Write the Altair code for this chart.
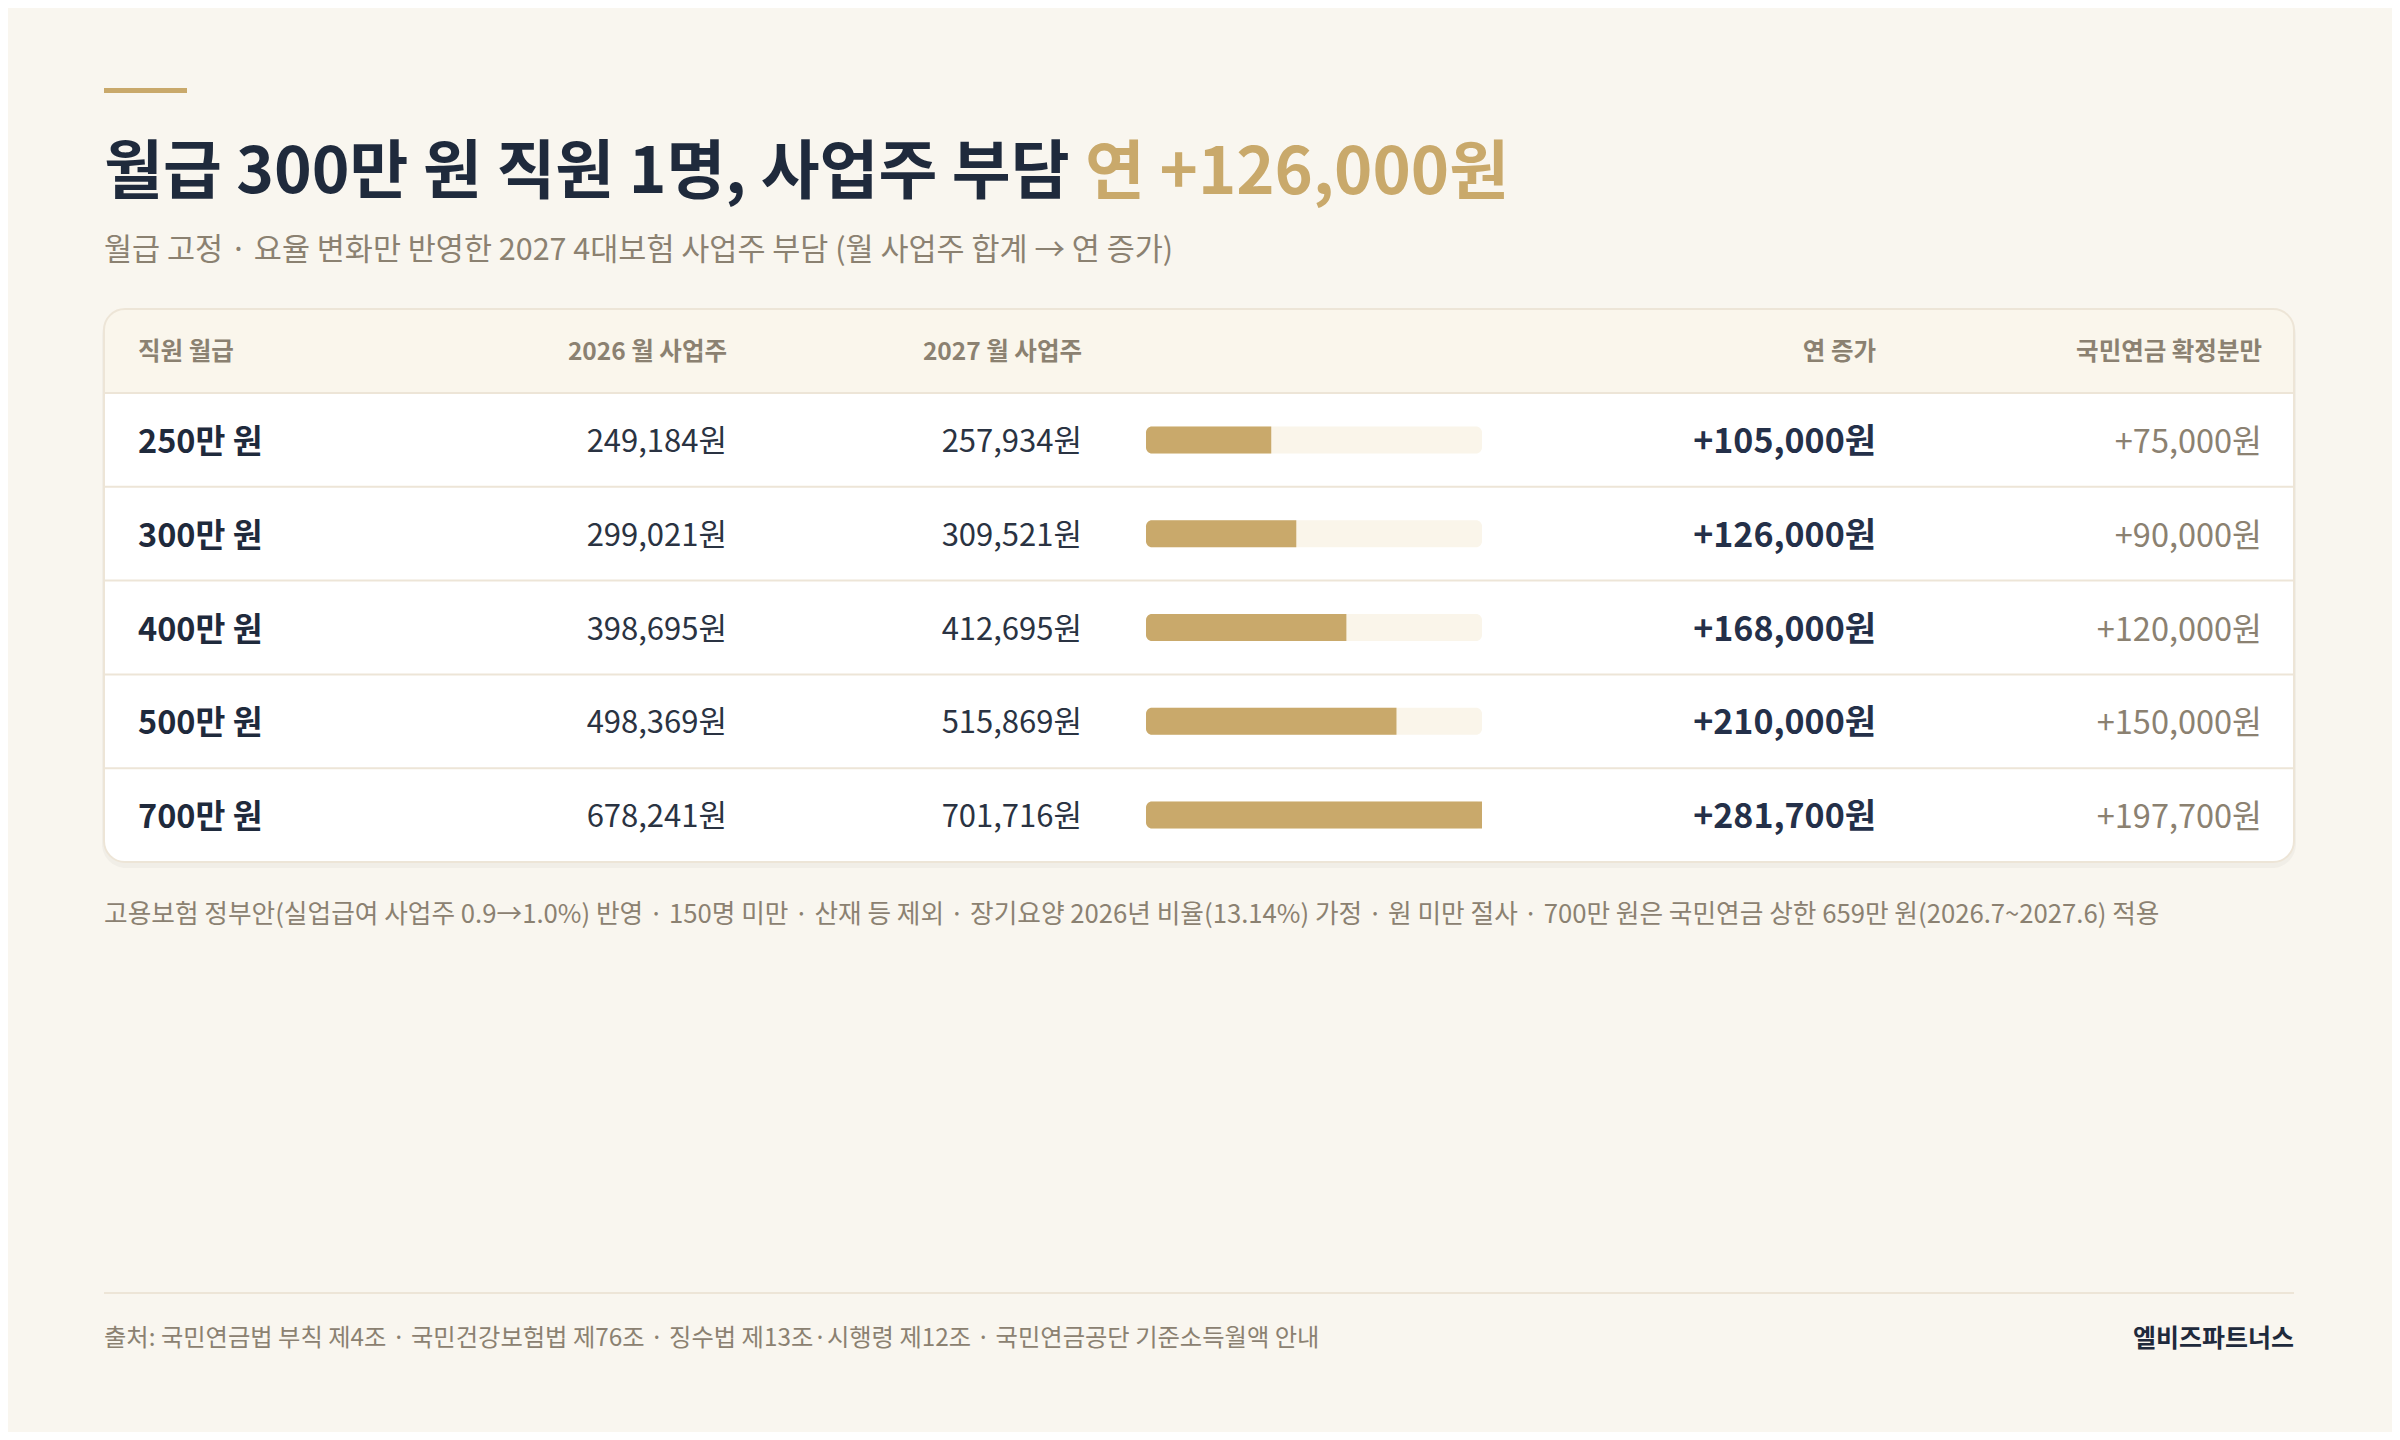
import altair as alt
import pandas as pd

# data
labels = ["250만 원", "300만 원", "400만 원", "500만 원", "700만 원"]
monthly_2026 = [249184, 299021, 398695, 498369, 678241]
monthly_2027 = [257934, 309521, 412695, 515869, 701716]
annual_inc = [105000, 126000, 168000, 210000, 281700]
pension_only = [75000, 90000, 120000, 150000, 197700]
headers = ["직원 월급", "2026 월 사업주", "2027 월 사업주", "연 증가", "국민연금 확정분만"]

title_main = "월급 300만 원 직원 1명, 사업주 부담"
title_hl = "연 +126,000원"
subtitle = "월급 고정 · 요율 변화만 반영한 2027 4대보험 사업주 부담 (월 사업주 합계 → 연 증가)"
footnote = ("고용보험 정부안(실업급여 사업주 0.9→1.0%) 반영 · 150명 미만 · 산재 등 제외 · "
            "장기요양 2026년 비율(13.14%) 가정 · 원 미만 절사 · 700만 원은 국민연금 상한 659만 원(2026.7~2027.6) 적용")
source = "출처: 국민연금법 부칙 제4조 · 국민건강보험법 제76조 · 징수법 제13조·시행령 제12조 · 국민연금공단 기준소득월액 안내"
brand = "엘비즈파트너스"

FONT = "Noto Sans CJK KR"
NAVY = "#1f2a3c"
GOLD = "#c9a96b"
GREY = "#8b8171"
LINE = "#ede5d7"
BG = "#f9f6ef"

df = pd.DataFrame({
    "label": labels,
    "m26": [f"{v:,}원" for v in monthly_2026],
    "m27": [f"{v:,}원" for v in monthly_2027],
    "annual": annual_inc,
    "annual_txt": [f"+{v:,}원" for v in annual_inc],
    "pension_txt": [f"+{v:,}원" for v in pension_only],
})
df["zero"] = 0
df["full"] = max(annual_inc)

one = pd.DataFrame({"k": [0]})

yscale = alt.Scale(domain=labels, range=[385, 854], paddingInner=0, paddingOuter=0)
xscale = alt.Scale(domain=[0, max(annual_inc)], range=[1138, 1474])
Y = alt.Y("label:N", scale=yscale, axis=None)


def box(x, x2, y, y2, **kw):
    return alt.Chart(one).mark_rect(**kw).encode(
        x=alt.value(x), x2=alt.value(x2), y=alt.value(y), y2=alt.value(y2))


def label_text(txt, x, y, **kw):
    return alt.Chart(pd.DataFrame({"t": [txt]})).mark_text(
        font=FONT, baseline="middle", **kw).encode(
        x=alt.value(x), y=alt.value(y), text="t:N")


accent = box(96, 179, 80, 85, fill=GOLD)
t1 = label_text(title_main, 96, 166, align="left", fontSize=64,
                fontWeight="bold", color=NAVY)
t2 = label_text(title_hl, 1077, 166, align="left", fontSize=65,
                fontWeight="bold", color=GOLD)
sub = label_text(subtitle, 96, 243, align="left", fontSize=30.5, color=GREY)

shadow = box(94, 2288, 303, 860, fill="#000000", opacity=0.03, cornerRadius=24)
card = box(96, 2286, 301, 854, fill="#ffffff", cornerRadius=21)
head_bg = box(96, 2286, 301, 385, fill="#faf6ec",
              cornerRadiusTopLeft=21, cornerRadiusTopRight=21)
card_edge = box(96, 2286, 301, 854, fill="#ffffff", fillOpacity=0, stroke=LINE,
                strokeWidth=2, cornerRadius=21)

dividers = alt.Chart(df).mark_rule(color=LINE, strokeWidth=2).encode(
    y=alt.Y("label:N", scale=yscale, axis=None, bandPosition=0),
    x=alt.value(97), x2=alt.value(2285))

head_x = [130, 719, 1074, 1868, 2254]
head_align = ["left", "right", "right", "right", "right"]
head_layers = [label_text(h, hx, 345, align=ha, fontSize=24.5,
                          fontWeight="bold", color=GREY)
               for h, hx, ha in zip(headers, head_x, head_align)]

track = alt.Chart(df).mark_bar(height=27, color="#faf5ea", cornerRadius=6).encode(
    y=Y, x=alt.X("zero:Q", scale=xscale, axis=None), x2="full:Q")
bars = alt.Chart(df).mark_bar(height=27, color=GOLD,
                              cornerRadiusTopLeft=6, cornerRadiusBottomLeft=6).encode(
    y=Y, x=alt.X("zero:Q", scale=xscale, axis=None), x2="annual:Q")

cols = [
    ("label", 130, "left", "bold", NAVY, 32.5),
    ("m26", 719, "right", "normal", "#2a3342", 31),
    ("m27", 1074, "right", "normal", "#2a3342", 31),
    ("annual_txt", 1868, "right", "bold", "#243049", 34),
    ("pension_txt", 2254, "right", "normal", GREY, 32.5),
]
cell_layers = [
    alt.Chart(df).mark_text(font=FONT, fontSize=fs, align=a, baseline="middle",
                            fontWeight=w, color=c, dy=3).encode(
        y=Y, x=alt.value(cx), text=f"{f}:N")
    for f, cx, a, w, c, fs in cols
]

note = label_text(footnote, 96, 907, align="left", fontSize=25.7, color=GREY)
bottom_rule = alt.Chart(one).mark_rule(color=LINE, strokeWidth=2).encode(
    x=alt.value(96), x2=alt.value(2286), y=alt.value(1285))
src = label_text(source, 96, 1331, align="left", fontSize=24.3, color=GREY)
brand_t = label_text(brand, 2286, 1331, align="right", fontSize=25,
                     fontWeight="bold", color=NAVY)

chart = alt.layer(
    accent, t1, t2, sub, shadow, card, head_bg, card_edge, dividers,
    *head_layers, track, bars, *cell_layers, note, bottom_rule, src, brand_t
).resolve_scale(x="shared", y="shared").properties(
    width=2384, height=1424, autosize="none", padding=0, background=BG
).configure_view(stroke=None)

chart.save("out.html", embed_options={"renderer": "svg", "actions": False})
